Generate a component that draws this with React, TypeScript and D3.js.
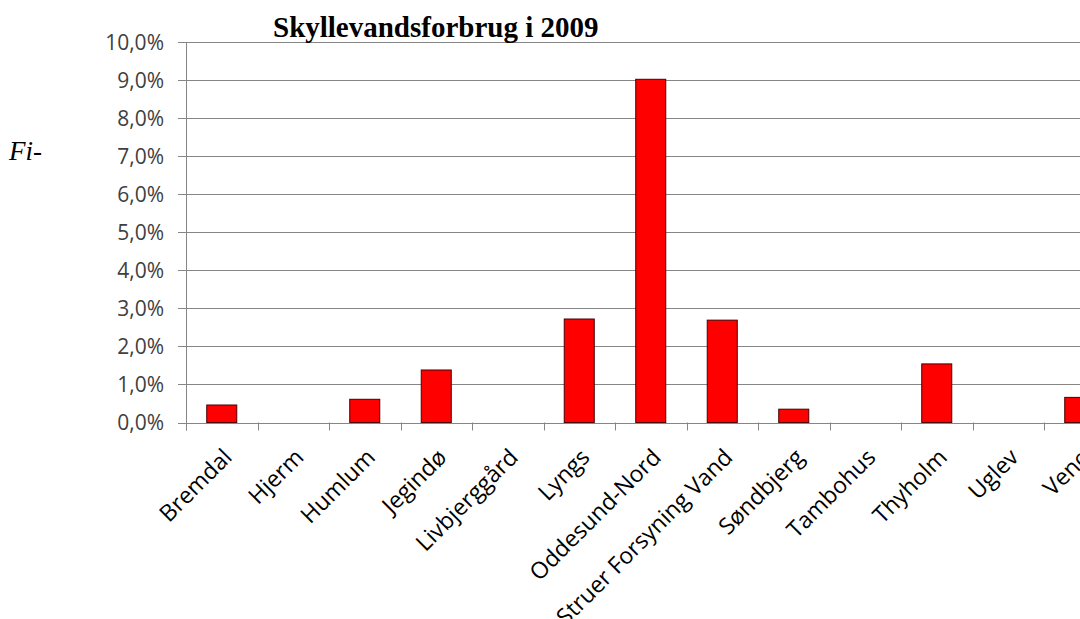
import React from "react";
import * as d3 from "d3";

const categories = [
  "Bremdal", "Hjerm", "Humlum", "Jegindø", "Livbjerggård", "Lyngs", "Oddesund-Nord",
  "Struer Forsyning Vand", "Søndbjerg", "Tambohus", "Thyholm", "Uglev", "Venø",
];
const values = [0.46, 0, 0.61, 1.38, 0, 2.72, 9.02, 2.69, 0.35, 0, 1.54, 0, 0.66];
const yTicks = [0, 1, 2, 3, 4, 5, 6, 7, 8, 9, 10];
const title = "Skyllevandsforbrug i 2009";
const sideNote = "Fi-";

const W = 1080;
const H = 619;
const plotLeft = 186;
const plotTop = 42;
const plotBottom = 422.5;
const step = 71.5;

export default function App() {
  const x = d3
    .scaleBand<string>()
    .domain(categories)
    .range([plotLeft, plotLeft + step * categories.length])
    .paddingInner(0.58)
    .paddingOuter(0.29);
  const y = d3.scaleLinear().domain([0, 10]).range([plotBottom, plotTop]);
  const fmt = (v: number) => v.toFixed(1).replace(".", ",") + "%";
  const font = "'Open Sans', sans-serif";
  const tickXs = d3.range(categories.length + 1).map((i) => plotLeft + i * step);

  return (
    <svg
      width={W}
      height={H}
      style={{ position: "absolute", left: 0, top: 0, background: "#fff" }}
    >
      <rect x={0} y={0} width={W} height={H} fill="#fff" />
      {/* gridlines */}
      {yTicks.map((t) => (
        <line
          key={"g" + t}
          x1={plotLeft - 8}
          x2={W}
          y1={Math.round(y(t)) + 0.5}
          y2={Math.round(y(t)) + 0.5}
          stroke="#868686"
          strokeWidth={1}
        />
      ))}
      {/* y axis */}
      <line
        x1={plotLeft + 0.5}
        x2={plotLeft + 0.5}
        y1={y(10)}
        y2={y(0) + 8}
        stroke="#868686"
      />
      {tickXs.map((tx, i) => (
        <line
          key={"t" + i}
          x1={Math.round(tx) + 0.5}
          x2={Math.round(tx) + 0.5}
          y1={y(0)}
          y2={y(0) + 8}
          stroke="#868686"
        />
      ))}
      {/* y labels */}
      {yTicks.map((t) => (
        <text
          key={"l" + t}
          x={164}
          y={y(t)}
          dy="0.36em"
          textAnchor="end"
          fontFamily={font}
          fontSize={21}
          fill="#404040"
        >
          {fmt(t)}
        </text>
      ))}
      {/* bars */}
      {categories.map((c, i) =>
        values[i] > 0 ? (
          <rect
            key={"b" + c}
            x={x(c)!}
            y={y(values[i])}
            width={x.bandwidth()}
            height={y(0) - y(values[i])}
            fill="#ff0000"
            stroke="#4a0000"
            strokeWidth={1}
          />
        ) : null
      )}
      {/* x labels */}
      {categories.map((c) => {
        const cx = x(c)! + x.bandwidth() / 2 + 6;
        const cy = 453;
        return (
          <text
            key={"x" + c}
            x={cx}
            y={cy}
            textAnchor="end"
            dy="0.35em"
            transform={`rotate(-45 ${cx} ${cy})`}
            fontFamily={font}
            fontSize={23}
            fill="#000"
          >
            {c}
          </text>
        );
      })}
      {/* title */}
      <text
        x={273}
        y={37}
        fontFamily="'Liberation Serif', 'Times New Roman', serif"
        fontWeight="bold"
        fontSize={29}
        fill="#000"
      >
        {title}
      </text>
      <text
        x={9}
        y={160}
        fontFamily="'Liberation Serif', 'Times New Roman', serif"
        fontStyle="italic"
        fontSize={27}
        fill="#000"
      >
        {sideNote}
      </text>
    </svg>
  );
}
